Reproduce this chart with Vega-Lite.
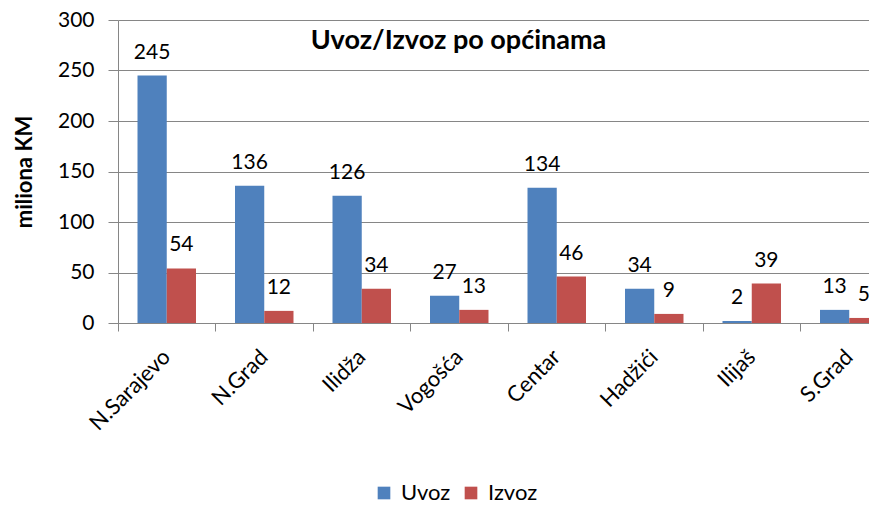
{
  "$schema": "https://vega.github.io/schema/vega-lite/v6.json",
  "autosize": "none",
  "width": 751,
  "height": 303,
  "padding": {"left": 118, "top": 20, "right": 0, "bottom": 182},
  "background": "white",
  "title": {
    "text": "Uvoz/Izvoz po općinama",
    "orient": "top",
    "anchor": "middle",
    "frame": "group",
    "baseline": "alphabetic",
    "dx": -35,
    "offset": -67,
    "fontSize": 27,
    "fontWeight": "bold",
    "font": "Lato",
    "color": "#000000"
  },
  "data": {
    "values": [
      {"opcina": "N.Sarajevo", "tip": "Uvoz", "v": 245},
      {"opcina": "N.Sarajevo", "tip": "Izvoz", "v": 54},
      {"opcina": "N.Grad", "tip": "Uvoz", "v": 136},
      {"opcina": "N.Grad", "tip": "Izvoz", "v": 12},
      {"opcina": "Ilidža", "tip": "Uvoz", "v": 126},
      {"opcina": "Ilidža", "tip": "Izvoz", "v": 34},
      {"opcina": "Vogošća", "tip": "Uvoz", "v": 27},
      {"opcina": "Vogošća", "tip": "Izvoz", "v": 13},
      {"opcina": "Centar", "tip": "Uvoz", "v": 134},
      {"opcina": "Centar", "tip": "Izvoz", "v": 46},
      {"opcina": "Hadžići", "tip": "Uvoz", "v": 34},
      {"opcina": "Hadžići", "tip": "Izvoz", "v": 9},
      {"opcina": "Ilijaš", "tip": "Uvoz", "v": 2},
      {"opcina": "Ilijaš", "tip": "Izvoz", "v": 39},
      {"opcina": "S.Grad", "tip": "Uvoz", "v": 13},
      {"opcina": "S.Grad", "tip": "Izvoz", "v": 5}
    ]
  },
  "encoding": {
    "x": {
      "field": "opcina",
      "type": "nominal",
      "sort": null,
      "scale": {"range": [0, 780], "paddingInner": 0, "paddingOuter": 0},
      "axis": {
        "title": null,
        "labelAngle": -45,
        "labelAlign": "right",
        "labelBaseline": "middle",
        "labelFontSize": 22,
        "labelFont": "Lato",
        "labelColor": "#000000",
        "labelPadding": 22,
        "bandPosition": 0,
        "ticks": true,
        "tickSize": 8,
        "tickColor": "#868686",
        "domainColor": "#868686",
        "grid": false
      }
    },
    "xOffset": {
      "field": "tip",
      "type": "nominal",
      "sort": ["Uvoz", "Izvoz"],
      "scale": {"paddingInner": 0, "paddingOuter": 0.667}
    },
    "y": {
      "field": "v",
      "type": "quantitative",
      "scale": {"domain": [0, 300], "nice": false},
      "axis": {
        "title": "miliona KM",
        "titleFontSize": 22,
        "titleFont": "Lato",
        "titleFontWeight": "bold",
        "titleColor": "#000000",
        "titlePadding": 21,
        "values": [0, 50, 100, 150, 200, 250, 300],
        "labelFontSize": 21,
        "labelFont": "Lato",
        "labelColor": "#000000",
        "labelPadding": 14,
        "tickSize": 10,
        "tickColor": "#868686",
        "domainColor": "#868686",
        "gridColor": "#868686",
        "grid": true
      }
    }
  },
  "layer": [
    {
      "mark": {"type": "bar"},
      "encoding": {
        "color": {
          "field": "tip",
          "type": "nominal",
          "sort": ["Uvoz", "Izvoz"],
          "scale": {"domain": ["Uvoz", "Izvoz"], "range": ["#4F81BD", "#C0504D"]},
          "legend": {
            "title": null,
            "orient": "none",
            "direction": "horizontal",
            "legendX": 255,
            "legendY": 462,
            "symbolType": "square",
            "symbolSize": 160,
            "symbolStrokeWidth": 0,
            "labelFontSize": 22,
            "labelFont": "Lato",
            "labelColor": "#000000",
            "labelOffset": 6,
            "columnPadding": 9
          }
        }
      }
    },
    {
      "mark": {"type": "text", "baseline": "alphabetic", "dy": -17, "fontSize": 21, "font": "Lato", "color": "#000000"},
      "encoding": {"text": {"field": "v", "type": "quantitative"}}
    }
  ],
  "config": {"view": {"stroke": null}}
}
